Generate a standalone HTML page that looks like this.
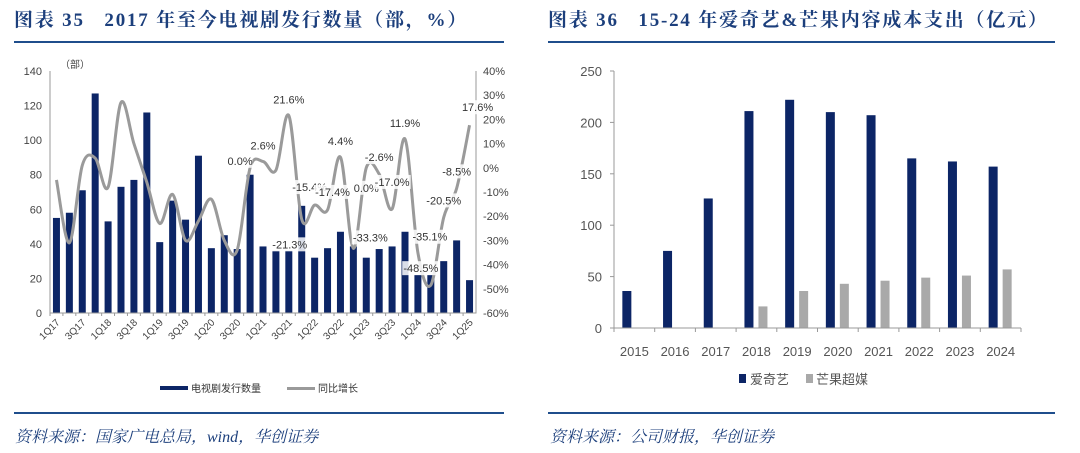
<!DOCTYPE html>
<html><head><meta charset="utf-8"><style>
body{margin:0;background:#fff;width:1080px;height:453px;overflow:hidden}
svg{display:block;font-family:"Liberation Sans","Noto Sans CJK SC",sans-serif}
.ser{font-family:"Liberation Serif","Noto Serif CJK SC",serif}
</style></head><body>
<svg id="s" width="1080" height="453" viewBox="0 0 1080 453">
<g>
<text class="ser" x="14" y="26" font-size="19" font-weight="bold" fill="#1c3f7c" letter-spacing="1.8">图表 35&#160;&#160; 2017 年至今电视剧发行数量（部，%）</text>
<rect x="14" y="41" width="490" height="2" fill="#1f4e8c"/>
</g>
<g>
<text class="ser" x="548" y="26" font-size="19" font-weight="bold" fill="#1c3f7c" letter-spacing="1.8">图表 36&#160;&#160; 15-24 年爱奇艺&amp;芒果内容成本支出（亿元）</text>
<rect x="548" y="41" width="507" height="2" fill="#1f4e8c"/>
</g>
<rect x="14" y="412" width="490" height="2" fill="#1f4e8c"/>
<rect x="548" y="412" width="507" height="2" fill="#1f4e8c"/>
<text class="ser" x="15" y="442" font-size="16" font-style="italic" fill="#1c3f7c">资料来源：国家广电总局，wind，华创证券</text>
<text class="ser" x="550" y="442" font-size="16" font-style="italic" fill="#1c3f7c">资料来源：公司财报，华创证券</text>
<g id="left"></g>
<g id="right"></g>
</svg>
<script>
const quarters=["1Q17","2Q17","3Q17","4Q17","1Q18","2Q18","3Q18","4Q18","1Q19","2Q19","3Q19","4Q19","1Q20","2Q20","3Q20","4Q20","1Q21","2Q21","3Q21","4Q21","1Q22","2Q22","3Q22","4Q22","1Q23","2Q23","3Q23","4Q23","1Q24","2Q24","3Q24","4Q24","1Q25"];
const dramaCount=[55,58,71,127,53,73,77,116,41,65,54,91,37.5,45,37,80,38.5,36,36,62,32,37.5,47,38.5,32,37,38.5,47,22,22,30,42,19];
const yoyGrowth=[-5,-31,1,4,-8,27,10,-6,-23,-11,-30,-22,-13,-30,-34,0.0,2.6,-1,21.6,-21.3,-15.4,-17.4,4.4,-33.3,0.0,-2.6,-17.0,11.9,-35.1,-48.5,-20.5,-8.5,17.6];
const leftTicks=[0,20,40,60,80,100,120,140];
const rightTicks=[-60,-50,-40,-30,-20,-10,0,10,20,30,40];
const labelIdx=[15,16,18,19,20,21,22,23,24,25,26,27,28,29,30,31,32];
const labelDx=[-10,0,0,-12,-5,5,0,17,0,0,0,0,12,-10,0,0,8];
const labelDy=[-7,-16,-16,25,-18,-18,-16,-11,20,-17,-27,-16,-16,-17,-17,-17,-18];
const years=["2015","2016","2017","2018","2019","2020","2021","2022","2023","2024"];
const iqiyi=[36,75,126,211,222,210,207,165,162,157];
const mango=[0,0,0,21,36,43,46,49,51,57];
const yearTicks=[0,50,100,150,200,250];
const NS="http://www.w3.org/2000/svg";
function mk(p,t,a,txt){const e=document.createElementNS(NS,t);for(const k in a)e.setAttribute(k,a[k]);if(txt!==undefined)e.textContent=txt;p.appendChild(e);return e;}
// left chart
const L=document.getElementById('left');
const x0=50,x1=476,yB=313,yT=71;
const step=(x1-x0)/quarters.length;
const xq=i=>x0+step*(i+0.5);
const yL=v=>yB-(v/140)*(yB-yT);
const yR=p=>yB-((p+60)/100)*(yB-yT);
leftTicks.forEach(t=>{const e=mk(L,'text',{x:42,y:yL(t)+4,'font-size':11,'text-anchor':'end',fill:'#444'},t);
});
rightTicks.forEach(t=>{const e=mk(L,'text',{x:483,y:yR(t)+4,'font-size':11,fill:'#444'},t+'%');
});
let u=mk(L,'text',{x:60,y:68,'font-size':10,fill:'#444'},'（部）');
dramaCount.forEach((v,i)=>{const e=mk(L,'rect',{x:xq(i)-3.5,y:yL(v),width:7,height:yB-yL(v),fill:'#0c2566'});
});
let ax=mk(L,'path',{d:`M${x0} ${yT}V${yB}H${x1}V${yT}`,fill:'none',stroke:'#999','stroke-width':1});

quarters.forEach((q,i)=>{mk(L,'line',{x1:x0+step*i,x2:x0+step*i,y1:yB,y2:yB+3,stroke:'#999'});
if(i%2===0){const e=mk(L,'text',{x:xq(i)+4,y:yB+10,'font-size':10,fill:'#444','text-anchor':'end',transform:`rotate(-45 ${xq(i)+4} ${yB+10})`},q);
}});
// smooth line
const pts=yoyGrowth.map((p,i)=>[xq(i),yR(p)]);
let d=`M${pts[0][0]} ${pts[0][1]}`;
for(let i=0;i<pts.length-1;i++){const p0=pts[i-1]||pts[i],p1=pts[i],p2=pts[i+1],p3=pts[i+2]||p2;
d+=` C${p1[0]+(p2[0]-p0[0])/6} ${p1[1]+(p2[1]-p0[1])/6} ${p2[0]-(p3[0]-p1[0])/6} ${p2[1]-(p3[1]-p1[1])/6} ${p2[0]} ${p2[1]}`;}
let ln=mk(L,'path',{d:d,fill:'none',stroke:'#9a9a9a','stroke-width':3});

labelIdx.forEach((idx,k)=>{const cx=xq(idx)+labelDx[k],cy=yR(yoyGrowth[idx])+labelDy[k];
const txt=yoyGrowth[idx].toFixed(1)+'%';const w=txt.length*6.2;
mk(L,'rect',{x:cx-w/2,y:cy-7,width:w,height:14,fill:'#fff','fill-opacity':0.85});
const e=mk(L,'text',{x:cx,y:cy+4,'font-size':11,'text-anchor':'middle',fill:'#333'},txt);
});
mk(L,'rect',{x:160,y:386,width:28,height:4,fill:'#0c2566'});
let lg=mk(L,'text',{x:191,y:392,'font-size':10,fill:'#333'},'电视剧发行数量');
mk(L,'rect',{x:287,y:387,width:28,height:3,fill:'#9a9a9a'});
lg=mk(L,'text',{x:318,y:392,'font-size':10,fill:'#333'},'同比增长');
// right chart
const R=document.getElementById('right');
const rx0=614,rx1=1021,ryB=328,ryT=71;
const rs=(rx1-rx0)/years.length;
const yv=v=>ryB-(v/250)*(ryB-ryT);
yearTicks.forEach(t=>{const e=mk(R,'text',{x:602,y:yv(t)+5,'font-size':13,'text-anchor':'end',fill:'#555'},t);
});
years.forEach((y,i)=>{const c=rx0+rs*(i+0.5);
let b=mk(R,'rect',{x:c-12,y:yv(iqiyi[i]),width:9,height:ryB-yv(iqiyi[i]),fill:'#0c2566'});

if(mango[i]>0){b=mk(R,'rect',{x:c+2,y:yv(mango[i]),width:9,height:ryB-yv(mango[i]),fill:'#a9a9a9'});
}
mk(R,'line',{x1:rx0+rs*i,x2:rx0+rs*i,y1:ryB,y2:ryB+4,stroke:'#999'});
const e=mk(R,'text',{x:c,y:ryB+28,'font-size':13,'text-anchor':'middle',fill:'#555'},y);
});
mk(R,'line',{x1:rx1,x2:rx1,y1:ryB,y2:ryB+4,stroke:'#999'});
ax=mk(R,'path',{d:`M${rx0} ${ryT}V${ryB}H${rx1}`,fill:'none',stroke:'#999'});

yearTicks.forEach(t=>mk(R,'line',{x1:rx0-4,x2:rx0,y1:yv(t),y2:yv(t),stroke:'#999'}));
mk(R,'rect',{x:739,y:374,width:7,height:9,fill:'#0c2566'});
lg=mk(R,'text',{x:750,y:384,'font-size':13,fill:'#555'},'爱奇艺');
mk(R,'rect',{x:806,y:374,width:7,height:9,fill:'#a9a9a9'});
lg=mk(R,'text',{x:816,y:384,'font-size':13,fill:'#555'},'芒果超媒');
</script>
</body></html>
